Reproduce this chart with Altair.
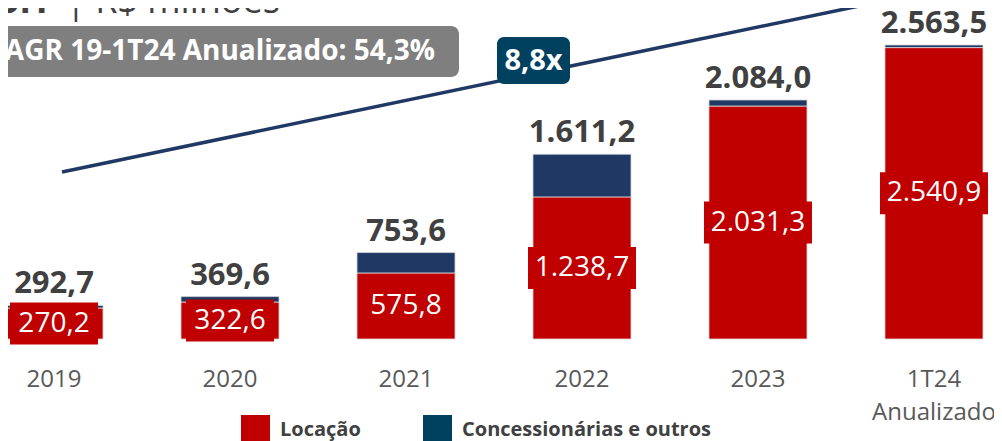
import altair as alt
import pandas as pd

# ---- data ----
categorias = ["2019", "2020", "2021", "2022", "2023", "1T24 Anualizado"]
locacao = [270.2, 322.6, 575.8, 1238.7, 2031.3, 2540.9]
concessionarias = [22.5, 47.0, 177.8, 372.5, 52.7, 22.6]
totais = [292.7, 369.6, 753.6, 1611.2, 2084.0, 2563.5]
rotulos_locacao = ["270,2", "322,6", "575,8", "1.238,7", "2.031,3", "2.540,9"]
rotulos_totais = ["292,7", "369,6", "753,6", "1.611,2", "2.084,0", "2.563,5"]
segmentos = ["Locação", "Concessionárias e outros"]
titulo_negrito = ["EBIT"]
titulo_resto = ["| R$ milhões"]
cagr_texto = ["CAGR 19-1T24 Anualizado: 54,3%"]
multiplo_texto = ["8,8x"]

FONT = "Open Sans"
RED = "#C00000"
NAVY = "#203864"
TEAL = "#00415F"
DARK = "#404040"

longo = pd.DataFrame({
    "categoria": categorias * 2,
    "segmento": [segmentos[0]] * len(categorias) + [segmentos[1]] * len(categorias),
    "valor": locacao + concessionarias,
    "ordem": [0] * len(categorias) + [1] * len(categorias),
})
resumo = pd.DataFrame({
    "categoria": categorias,
    "locacao": locacao,
    "total": totais,
    "rot_loc": rotulos_locacao,
    "rot_tot": rotulos_totais,
})

xsc = alt.Scale(range=[-3, 975], paddingInner=0.443, paddingOuter=0)
xax = alt.Axis(title=None, domain=False, ticks=False, grid=False, labelAngle=0,
               labelFont=FONT, labelFontSize=24, labelColor="#595959",
               labelPadding=28, labelLineHeight=33, labelOverlap=False,
               labelExpr="split(datum.label, ' ')")
X = alt.X("categoria:N", sort=categorias, scale=xsc, axis=xax)
ysc = alt.Scale(domain=[0, 2886], nice=False, zero=True)

barras = alt.Chart(longo).mark_bar(stroke="#d9d9d9", strokeWidth=0.8).encode(
    x=X,
    y=alt.Y("valor:Q", stack="zero", scale=ysc, axis=None),
    color=alt.Color("segmento:N", scale=alt.Scale(domain=segmentos, range=[RED, NAVY]), legend=None),
    order=alt.Order("ordem:Q"),
)

legenda = alt.Chart(longo).mark_square(opacity=0).encode(
    x=alt.value(0), y=alt.value(0),
    fill=alt.Fill("segmento:N", sort=segmentos,
                  scale=alt.Scale(domain=segmentos, range=[RED, TEAL]),
                  legend=alt.Legend(title=None, orient="none", legendX=233, legendY=407,
                                    direction="horizontal", symbolType="square",
                                    symbolSize=841, symbolOpacity=1, symbolStrokeWidth=0,
                                    labelFont=FONT, labelFontSize=20, labelFontWeight="bold",
                                    labelColor=DARK, labelOffset=10, columnPadding=62,
                                    padding=0, labelLimit=400)),
)

caixas = alt.Chart(resumo).transform_calculate(
    inf="datum.locacao / 2 - 183",
    sup="datum.locacao / 2 + 183",
    larg="length(datum.rot_loc) * 10 + 38",
).mark_bar(color=RED).encode(
    x=X,
    y=alt.Y("inf:Q", scale=ysc, axis=None),
    y2="sup:Q",
    size=alt.Size("larg:Q", scale=None, legend=None),
)

rot_loc = alt.Chart(resumo).transform_calculate(meio="datum.locacao / 2").mark_text(
    font=FONT, fontSize=28, color="white", baseline="middle"
).encode(x=X, y=alt.Y("meio:Q", scale=ysc, axis=None), text="rot_loc:N")

rot_tot = alt.Chart(resumo).mark_text(
    font=FONT, fontSize=31, fontWeight="bold", color=DARK, baseline="alphabetic", dy=-12
).encode(x=X, y=alt.Y("total:Q", scale=ysc, axis=None), text="rot_tot:N")

deco = pd.DataFrame({"titulo_b": titulo_negrito, "titulo_r": titulo_resto,
                     "cagr": cagr_texto, "mult": multiplo_texto})

linha = alt.Chart(deco).mark_rule(color=NAVY, strokeWidth=3.5).encode(
    x=alt.value(54), y=alt.value(164), x2=alt.value(880), y2=alt.value(-8))

selo = alt.Chart(deco).mark_rect(color=TEAL, cornerRadius=7).encode(
    x=alt.value(489), x2=alt.value(562), y=alt.value(29), y2=alt.value(76))
selo_txt = alt.Chart(deco).mark_text(font=FONT, fontSize=29, fontWeight="bold", color="white",
                                     align="center", baseline="middle").encode(
    x=alt.value(525.5), y=alt.value(53), text="mult:N")

cagr_box = alt.Chart(deco).mark_rect(color="#7F7F7F", cornerRadius=8).encode(
    x=alt.value(-20), x2=alt.value(451), y=alt.value(18), y2=alt.value(69))
cagr_txt = alt.Chart(deco).mark_text(font=FONT, fontSize=28, fontWeight="bold", color="white",
                                     align="right", baseline="middle").encode(
    x=alt.value(427), y=alt.value(44), text="cagr:N")

tit_b = alt.Chart(deco).mark_text(font=FONT, fontSize=36, fontWeight="bold", color=DARK,
                                  align="right", baseline="alphabetic").encode(
    x=alt.value(44), y=alt.value(5), text="titulo_b:N")
tit_r = alt.Chart(deco).mark_text(font=FONT, fontSize=36, color=DARK,
                                  align="left", baseline="alphabetic").encode(
    x=alt.value(58), y=alt.value(5), text="titulo_r:N")

chart = alt.layer(
    linha, selo, selo_txt, cagr_box, cagr_txt, tit_b, tit_r,
    barras, caixas, rot_loc, rot_tot, legenda
).resolve_scale(color="independent", fill="independent").properties(
    width=986, height=331,
    autosize=alt.AutoSizeParams(type="none"),
    padding={"left": 0, "top": 0, "right": 0, "bottom": 110},
).configure_view(stroke=None)

chart.save("out.html", embed_options={"renderer": "svg", "actions": False})
